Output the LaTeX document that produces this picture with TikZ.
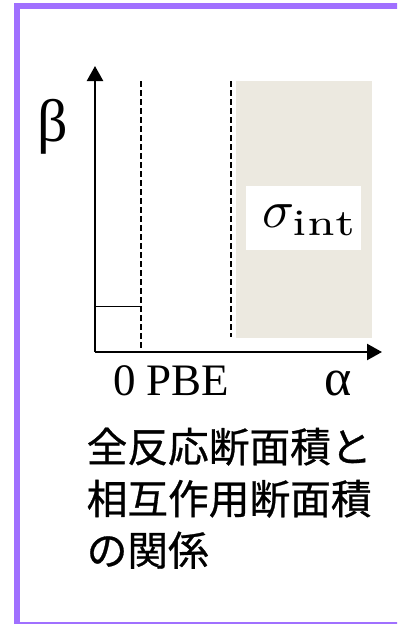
\documentclass[tikz,border=0pt]{standalone}
\usepackage{graphicx}
\usepackage{fontspec}
\newfontfamily\serifb{Liberation Serif}
\newfontfamily\jpfont[FakeBold=0.7]{Noto Sans CJK JP}
\usetikzlibrary{arrows.meta}
\definecolor{framepurple}{RGB}{160,112,255}
\definecolor{regiongray}{RGB}{236,233,224}
\tikzset{
  axisline/.style={line width=2.4pt,-{Triangle[width=16pt,length=15pt]}},
  dashline/.style={line width=2pt,dash pattern=on 6pt off 3pt},
  thinline/.style={line width=1.8pt},
  serlabel/.style={inner sep=0pt,anchor=base,font=\serifb\fontsize{45}{45}\selectfont},
  jpline/.style={inner sep=0pt,anchor=base west,font=\jpfont\fontsize{40.7}{40.7}\selectfont}
}
\begin{document}
\begin{tikzpicture}[x=1pt,y=-1pt]
\useasboundingbox (0,0) rectangle (397,624);
\clip (0,0) rectangle (397,624);
% frame
\draw[framepurple,line width=6pt] (16.5,5.5) rectangle (430,624.5);
% shaded region
\fill[regiongray] (236,81) rectangle (372,338);
\node[fill=white,minimum width=115pt,minimum height=64pt,inner sep=0pt] (sigbox) at (303.5,218) {};
\node[inner sep=0pt] (sig) at (310,220)
  {\scalebox{5.3}{$\sigma_{\scalebox{1.2}[1]{$\scriptstyle\mathrm{int}$}}$}};
% coordinates
\coordinate (O) at (95,352);
\coordinate (ytip) at (95,66);
\coordinate (xtip) at (382,352);
\coordinate (d1top) at (140.5,81);
\coordinate (d1bot) at (140.5,352);
\coordinate (d2top) at (231,81);
\coordinate (d2bot) at (231,337);
\coordinate (hl) at (95,306.5);
\coordinate (hr) at (140.5,306.5);
% lines
\draw[dashline] (d1top) -- (d1bot);
\draw[dashline] (d2top) -- (d2bot);
\draw[thinline] (hl) -- (hr);
\draw[axisline] (O) -- (ytip);
\draw[axisline] (O) -- (xtip);
% labels
\node[serlabel,font=\serifb\fontsize{60}{60}\selectfont] (beta) at (52.5,141) {β};
\node[serlabel,anchor=base west] (pbe) at (113,395) {0 PBE};
\node[serlabel,font=\serifb\fontsize{52}{52}\selectfont] (alpha) at (338.5,395) {α};
\node[jpline] (j1) at (86.5,462) {全反応断面積と};
\node[jpline] (j2) at (86.5,514) {相互作用断面積};
\node[jpline] (j3) at (86.5,565.5) {の関係};
\end{tikzpicture}
\end{document}
